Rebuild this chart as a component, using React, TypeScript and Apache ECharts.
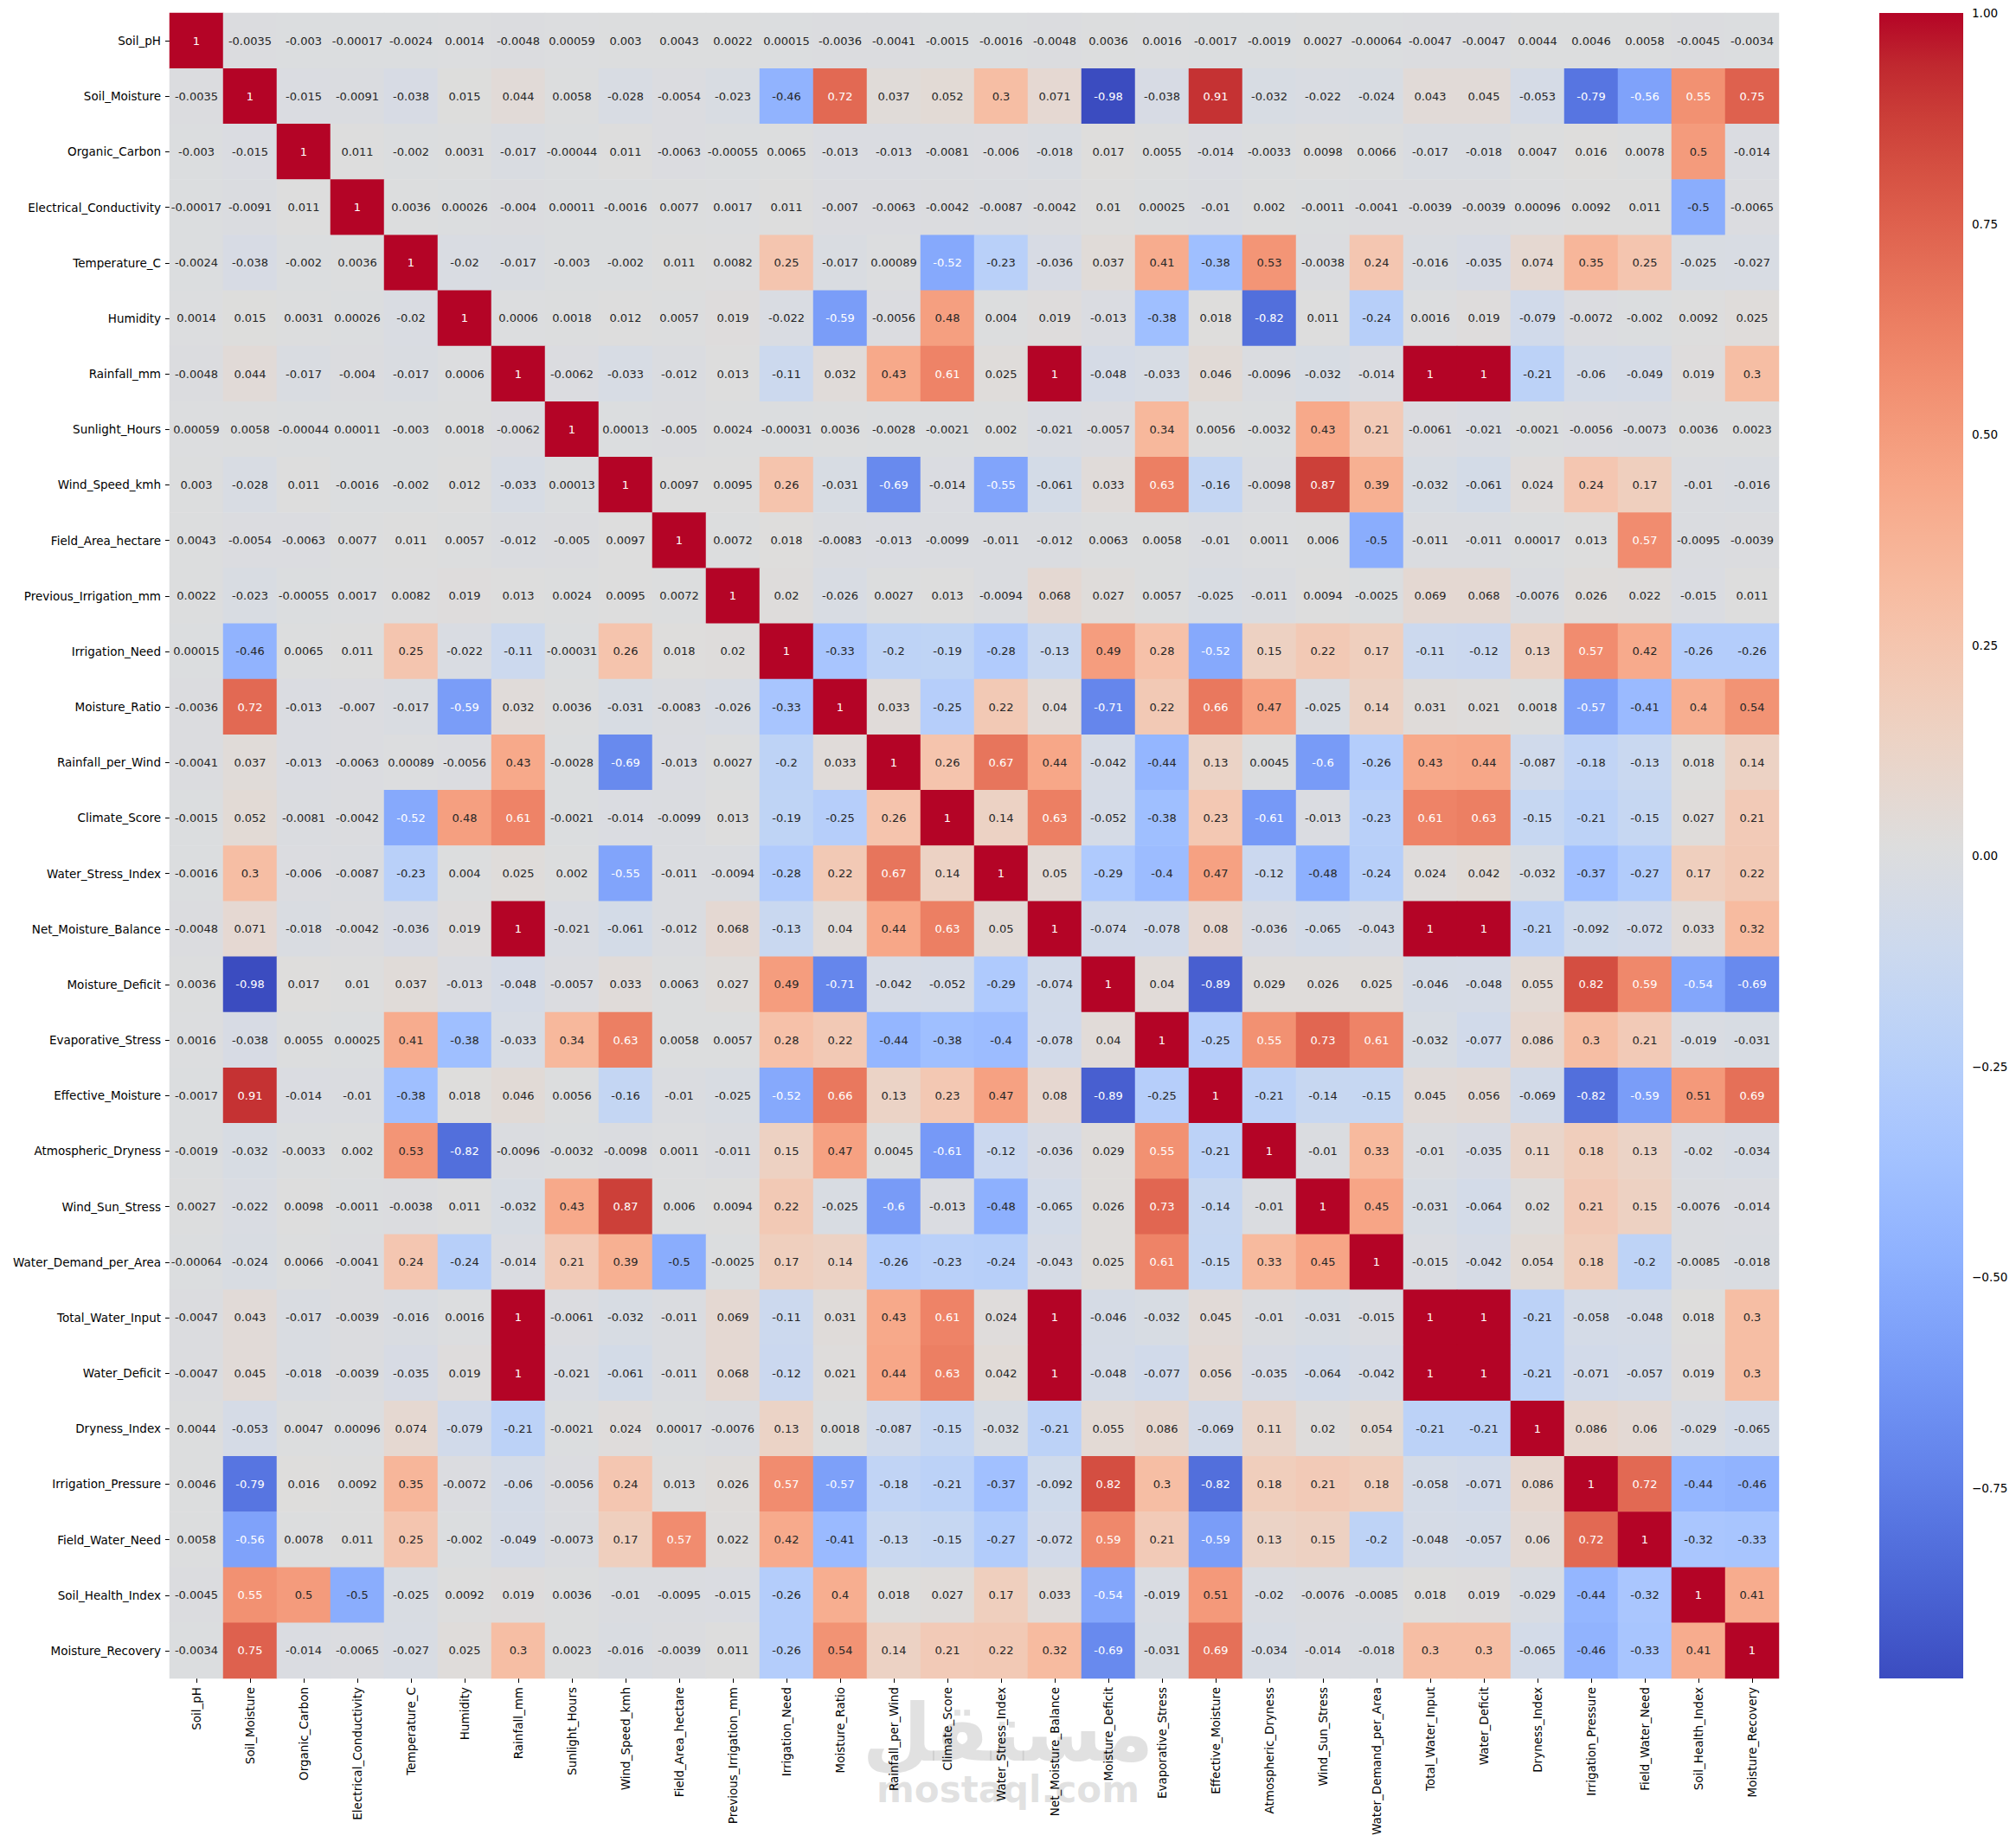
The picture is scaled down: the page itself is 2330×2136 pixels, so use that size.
import React, { useEffect, useRef } from "react";
import * as echarts from "echarts";

// Feature names (rows top-to-bottom, columns left-to-right)
const variables = [
  "Soil_pH", "Soil_Moisture", "Organic_Carbon", "Electrical_Conductivity", "Temperature_C",
  "Humidity", "Rainfall_mm", "Sunlight_Hours", "Wind_Speed_kmh", "Field_Area_hectare",
  "Previous_Irrigation_mm", "Irrigation_Need", "Moisture_Ratio", "Rainfall_per_Wind", "Climate_Score",
  "Water_Stress_Index", "Net_Moisture_Balance", "Moisture_Deficit", "Evaporative_Stress", "Effective_Moisture",
  "Atmospheric_Dryness", "Wind_Sun_Stress", "Water_Demand_per_Area", "Total_Water_Input", "Water_Deficit",
  "Dryness_Index", "Irrigation_Pressure", "Field_Water_Need", "Soil_Health_Index", "Moisture_Recovery",
];

// Pearson correlations, one row per feature
const soilPh = [1, -0.0035, -0.003, -0.00017, -0.0024, 0.0014, -0.0048, 0.00059, 0.003, 0.0043, 0.0022, 0.00015, -0.0036, -0.0041, -0.0015, -0.0016, -0.0048, 0.0036, 0.0016, -0.0017, -0.0019, 0.0027, -0.00064, -0.0047, -0.0047, 0.0044, 0.0046, 0.0058, -0.0045, -0.0034];
const soilMoisture = [-0.0035, 1, -0.015, -0.0091, -0.038, 0.015, 0.044, 0.0058, -0.028, -0.0054, -0.023, -0.46, 0.72, 0.037, 0.052, 0.3, 0.071, -0.98, -0.038, 0.91, -0.032, -0.022, -0.024, 0.043, 0.045, -0.053, -0.79, -0.56, 0.55, 0.75];
const organicCarbon = [-0.003, -0.015, 1, 0.011, -0.002, 0.0031, -0.017, -0.00044, 0.011, -0.0063, -0.00055, 0.0065, -0.013, -0.013, -0.0081, -0.006, -0.018, 0.017, 0.0055, -0.014, -0.0033, 0.0098, 0.0066, -0.017, -0.018, 0.0047, 0.016, 0.0078, 0.5, -0.014];
const electricalConductivity = [-0.00017, -0.0091, 0.011, 1, 0.0036, 0.00026, -0.004, 0.00011, -0.0016, 0.0077, 0.0017, 0.011, -0.007, -0.0063, -0.0042, -0.0087, -0.0042, 0.01, 0.00025, -0.01, 0.002, -0.0011, -0.0041, -0.0039, -0.0039, 0.00096, 0.0092, 0.011, -0.5, -0.0065];
const temperatureC = [-0.0024, -0.038, -0.002, 0.0036, 1, -0.02, -0.017, -0.003, -0.002, 0.011, 0.0082, 0.25, -0.017, 0.00089, -0.52, -0.23, -0.036, 0.037, 0.41, -0.38, 0.53, -0.0038, 0.24, -0.016, -0.035, 0.074, 0.35, 0.25, -0.025, -0.027];
const humidity = [0.0014, 0.015, 0.0031, 0.00026, -0.02, 1, 0.0006, 0.0018, 0.012, 0.0057, 0.019, -0.022, -0.59, -0.0056, 0.48, 0.004, 0.019, -0.013, -0.38, 0.018, -0.82, 0.011, -0.24, 0.0016, 0.019, -0.079, -0.0072, -0.002, 0.0092, 0.025];
const rainfallMm = [-0.0048, 0.044, -0.017, -0.004, -0.017, 0.0006, 1, -0.0062, -0.033, -0.012, 0.013, -0.11, 0.032, 0.43, 0.61, 0.025, 1, -0.048, -0.033, 0.046, -0.0096, -0.032, -0.014, 1, 1, -0.21, -0.06, -0.049, 0.019, 0.3];
const sunlightHours = [0.00059, 0.0058, -0.00044, 0.00011, -0.003, 0.0018, -0.0062, 1, 0.00013, -0.005, 0.0024, -0.00031, 0.0036, -0.0028, -0.0021, 0.002, -0.021, -0.0057, 0.34, 0.0056, -0.0032, 0.43, 0.21, -0.0061, -0.021, -0.0021, -0.0056, -0.0073, 0.0036, 0.0023];
const windSpeedKmh = [0.003, -0.028, 0.011, -0.0016, -0.002, 0.012, -0.033, 0.00013, 1, 0.0097, 0.0095, 0.26, -0.031, -0.69, -0.014, -0.55, -0.061, 0.033, 0.63, -0.16, -0.0098, 0.87, 0.39, -0.032, -0.061, 0.024, 0.24, 0.17, -0.01, -0.016];
const fieldAreaHectare = [0.0043, -0.0054, -0.0063, 0.0077, 0.011, 0.0057, -0.012, -0.005, 0.0097, 1, 0.0072, 0.018, -0.0083, -0.013, -0.0099, -0.011, -0.012, 0.0063, 0.0058, -0.01, 0.0011, 0.006, -0.5, -0.011, -0.011, 0.00017, 0.013, 0.57, -0.0095, -0.0039];
const previousIrrigationMm = [0.0022, -0.023, -0.00055, 0.0017, 0.0082, 0.019, 0.013, 0.0024, 0.0095, 0.0072, 1, 0.02, -0.026, 0.0027, 0.013, -0.0094, 0.068, 0.027, 0.0057, -0.025, -0.011, 0.0094, -0.0025, 0.069, 0.068, -0.0076, 0.026, 0.022, -0.015, 0.011];
const irrigationNeed = [0.00015, -0.46, 0.0065, 0.011, 0.25, -0.022, -0.11, -0.00031, 0.26, 0.018, 0.02, 1, -0.33, -0.2, -0.19, -0.28, -0.13, 0.49, 0.28, -0.52, 0.15, 0.22, 0.17, -0.11, -0.12, 0.13, 0.57, 0.42, -0.26, -0.26];
const moistureRatio = [-0.0036, 0.72, -0.013, -0.007, -0.017, -0.59, 0.032, 0.0036, -0.031, -0.0083, -0.026, -0.33, 1, 0.033, -0.25, 0.22, 0.04, -0.71, 0.22, 0.66, 0.47, -0.025, 0.14, 0.031, 0.021, 0.0018, -0.57, -0.41, 0.4, 0.54];
const rainfallPerWind = [-0.0041, 0.037, -0.013, -0.0063, 0.00089, -0.0056, 0.43, -0.0028, -0.69, -0.013, 0.0027, -0.2, 0.033, 1, 0.26, 0.67, 0.44, -0.042, -0.44, 0.13, 0.0045, -0.6, -0.26, 0.43, 0.44, -0.087, -0.18, -0.13, 0.018, 0.14];
const climateScore = [-0.0015, 0.052, -0.0081, -0.0042, -0.52, 0.48, 0.61, -0.0021, -0.014, -0.0099, 0.013, -0.19, -0.25, 0.26, 1, 0.14, 0.63, -0.052, -0.38, 0.23, -0.61, -0.013, -0.23, 0.61, 0.63, -0.15, -0.21, -0.15, 0.027, 0.21];
const waterStressIndex = [-0.0016, 0.3, -0.006, -0.0087, -0.23, 0.004, 0.025, 0.002, -0.55, -0.011, -0.0094, -0.28, 0.22, 0.67, 0.14, 1, 0.05, -0.29, -0.4, 0.47, -0.12, -0.48, -0.24, 0.024, 0.042, -0.032, -0.37, -0.27, 0.17, 0.22];
const netMoistureBalance = [-0.0048, 0.071, -0.018, -0.0042, -0.036, 0.019, 1, -0.021, -0.061, -0.012, 0.068, -0.13, 0.04, 0.44, 0.63, 0.05, 1, -0.074, -0.078, 0.08, -0.036, -0.065, -0.043, 1, 1, -0.21, -0.092, -0.072, 0.033, 0.32];
const moistureDeficit = [0.0036, -0.98, 0.017, 0.01, 0.037, -0.013, -0.048, -0.0057, 0.033, 0.0063, 0.027, 0.49, -0.71, -0.042, -0.052, -0.29, -0.074, 1, 0.04, -0.89, 0.029, 0.026, 0.025, -0.046, -0.048, 0.055, 0.82, 0.59, -0.54, -0.69];
const evaporativeStress = [0.0016, -0.038, 0.0055, 0.00025, 0.41, -0.38, -0.033, 0.34, 0.63, 0.0058, 0.0057, 0.28, 0.22, -0.44, -0.38, -0.4, -0.078, 0.04, 1, -0.25, 0.55, 0.73, 0.61, -0.032, -0.077, 0.086, 0.3, 0.21, -0.019, -0.031];
const effectiveMoisture = [-0.0017, 0.91, -0.014, -0.01, -0.38, 0.018, 0.046, 0.0056, -0.16, -0.01, -0.025, -0.52, 0.66, 0.13, 0.23, 0.47, 0.08, -0.89, -0.25, 1, -0.21, -0.14, -0.15, 0.045, 0.056, -0.069, -0.82, -0.59, 0.51, 0.69];
const atmosphericDryness = [-0.0019, -0.032, -0.0033, 0.002, 0.53, -0.82, -0.0096, -0.0032, -0.0098, 0.0011, -0.011, 0.15, 0.47, 0.0045, -0.61, -0.12, -0.036, 0.029, 0.55, -0.21, 1, -0.01, 0.33, -0.01, -0.035, 0.11, 0.18, 0.13, -0.02, -0.034];
const windSunStress = [0.0027, -0.022, 0.0098, -0.0011, -0.0038, 0.011, -0.032, 0.43, 0.87, 0.006, 0.0094, 0.22, -0.025, -0.6, -0.013, -0.48, -0.065, 0.026, 0.73, -0.14, -0.01, 1, 0.45, -0.031, -0.064, 0.02, 0.21, 0.15, -0.0076, -0.014];
const waterDemandPerArea = [-0.00064, -0.024, 0.0066, -0.0041, 0.24, -0.24, -0.014, 0.21, 0.39, -0.5, -0.0025, 0.17, 0.14, -0.26, -0.23, -0.24, -0.043, 0.025, 0.61, -0.15, 0.33, 0.45, 1, -0.015, -0.042, 0.054, 0.18, -0.2, -0.0085, -0.018];
const totalWaterInput = [-0.0047, 0.043, -0.017, -0.0039, -0.016, 0.0016, 1, -0.0061, -0.032, -0.011, 0.069, -0.11, 0.031, 0.43, 0.61, 0.024, 1, -0.046, -0.032, 0.045, -0.01, -0.031, -0.015, 1, 1, -0.21, -0.058, -0.048, 0.018, 0.3];
const waterDeficit = [-0.0047, 0.045, -0.018, -0.0039, -0.035, 0.019, 1, -0.021, -0.061, -0.011, 0.068, -0.12, 0.021, 0.44, 0.63, 0.042, 1, -0.048, -0.077, 0.056, -0.035, -0.064, -0.042, 1, 1, -0.21, -0.071, -0.057, 0.019, 0.3];
const drynessIndex = [0.0044, -0.053, 0.0047, 0.00096, 0.074, -0.079, -0.21, -0.0021, 0.024, 0.00017, -0.0076, 0.13, 0.0018, -0.087, -0.15, -0.032, -0.21, 0.055, 0.086, -0.069, 0.11, 0.02, 0.054, -0.21, -0.21, 1, 0.086, 0.06, -0.029, -0.065];
const irrigationPressure = [0.0046, -0.79, 0.016, 0.0092, 0.35, -0.0072, -0.06, -0.0056, 0.24, 0.013, 0.026, 0.57, -0.57, -0.18, -0.21, -0.37, -0.092, 0.82, 0.3, -0.82, 0.18, 0.21, 0.18, -0.058, -0.071, 0.086, 1, 0.72, -0.44, -0.46];
const fieldWaterNeed = [0.0058, -0.56, 0.0078, 0.011, 0.25, -0.002, -0.049, -0.0073, 0.17, 0.57, 0.022, 0.42, -0.41, -0.13, -0.15, -0.27, -0.072, 0.59, 0.21, -0.59, 0.13, 0.15, -0.2, -0.048, -0.057, 0.06, 0.72, 1, -0.32, -0.33];
const soilHealthIndex = [-0.0045, 0.55, 0.5, -0.5, -0.025, 0.0092, 0.019, 0.0036, -0.01, -0.0095, -0.015, -0.26, 0.4, 0.018, 0.027, 0.17, 0.033, -0.54, -0.019, 0.51, -0.02, -0.0076, -0.0085, 0.018, 0.019, -0.029, -0.44, -0.32, 1, 0.41];
const moistureRecovery = [-0.0034, 0.75, -0.014, -0.0065, -0.027, 0.025, 0.3, 0.0023, -0.016, -0.0039, 0.011, -0.26, 0.54, 0.14, 0.21, 0.22, 0.32, -0.69, -0.031, 0.69, -0.034, -0.014, -0.018, 0.3, 0.3, -0.065, -0.46, -0.33, 0.41, 1];

const corrRows = [
  soilPh, soilMoisture, organicCarbon, electricalConductivity, temperatureC,
  humidity, rainfallMm, sunlightHours, windSpeedKmh, fieldAreaHectare,
  previousIrrigationMm, irrigationNeed, moistureRatio, rainfallPerWind, climateScore,
  waterStressIndex, netMoistureBalance, moistureDeficit, evaporativeStress, effectiveMoisture,
  atmosphericDryness, windSunStress, waterDemandPerArea, totalWaterInput, waterDeficit,
  drynessIndex, irrigationPressure, fieldWaterNeed, soilHealthIndex, moistureRecovery,
];

// Colour scale limits and colorbar ticks
const colorMin = -0.976;
const colorMax = 1;
const colorbarTicks = [-0.75, -0.5, -0.25, 0, 0.25, 0.5, 0.75, 1];

// coolwarm diverging palette, 33 evenly spaced stops
const coolwarm: number[][] = [
  [59, 76, 192], [68, 90, 204], [77, 104, 215], [87, 117, 225], [98, 130, 234],
  [108, 142, 241], [119, 154, 247], [130, 165, 251], [141, 176, 254], [152, 185, 255],
  [163, 194, 255], [174, 201, 253], [184, 208, 249], [194, 213, 244], [204, 217, 238],
  [213, 219, 230], [221, 221, 221], [229, 216, 209], [236, 211, 197], [241, 204, 185],
  [245, 196, 173], [247, 187, 160], [247, 177, 148], [247, 166, 135], [244, 154, 123],
  [241, 141, 111], [236, 127, 99], [229, 112, 88], [222, 96, 77], [213, 80, 66],
  [203, 62, 56], [192, 40, 47], [180, 4, 38],
];
const paletteCss = coolwarm.map((c) => `rgb(${c[0]},${c[1]},${c[2]})`);

function sampleCoolwarm(v: number): number[] {
  let t = (v - colorMin) / (colorMax - colorMin);
  t = Math.max(0, Math.min(1, t));
  const pos = t * (coolwarm.length - 1);
  const i = Math.min(Math.floor(pos), coolwarm.length - 2);
  const f = pos - i;
  const a = coolwarm[i];
  const b = coolwarm[i + 1];
  return [0, 1, 2].map((k) => a[k] + (b[k] - a[k]) * f);
}

// Dark text on light cells, white text on dark cells (relative luminance rule)
function annotationColor(v: number): string {
  const rgb = sampleCoolwarm(v).map((c) => {
    const s = c / 255;
    return s <= 0.03928 ? s / 12.92 : Math.pow((s + 0.055) / 1.055, 2.4);
  });
  const lum = 0.2126 * rgb[0] + 0.7152 * rgb[1] + 0.0722 * rgb[2];
  return lum > 0.408 ? "#262626" : "#ffffff";
}

const FONT = "DejaVu Sans";

export default function App() {
  const ref = useRef<HTMLDivElement>(null);

  useEffect(() => {
    if (!ref.current) return;
    const chart = echarts.init(ref.current, undefined, { renderer: "svg" });

    const cells: any[] = [];
    corrRows.forEach((row, i) => {
      row.forEach((v, j) => {
        cells.push({ value: [j, i, v], label: { color: annotationColor(v) } });
      });
    });

    const gradientStops = paletteCss.map((color, i) => ({
      offset: i / (paletteCss.length - 1),
      color,
    }));

    chart.setOption({
      animation: false,
      backgroundColor: "#ffffff",
      textStyle: { fontFamily: FONT },
      grid: [
        { left: 196, top: 15, width: 1860, height: 1925 },
        { left: 2172, top: 15, width: 97, height: 1925 },
      ],
      xAxis: [
        {
          type: "category",
          gridIndex: 0,
          data: variables,
          position: "bottom",
          axisLine: { show: false },
          axisTick: { show: true, alignWithLabel: true, length: 5, lineStyle: { color: "#000", width: 1 } },
          axisLabel: { interval: 0, rotate: 90, margin: 10, fontSize: 13.5, color: "#000", fontFamily: FONT },
          splitLine: { show: false },
          splitArea: { show: false },
        },
        { type: "value", gridIndex: 1, min: 0, max: 1, show: false },
      ],
      yAxis: [
        {
          type: "category",
          gridIndex: 0,
          data: variables,
          inverse: true,
          axisLine: { show: false },
          axisTick: { show: true, alignWithLabel: true, length: 5, lineStyle: { color: "#000", width: 1 } },
          axisLabel: { interval: 0, margin: 10, fontSize: 13.5, color: "#000", fontFamily: FONT },
          splitLine: { show: false },
          splitArea: { show: false },
        },
        {
          type: "value",
          gridIndex: 1,
          min: colorMin,
          max: colorMax,
          position: "right",
          axisLine: { show: false },
          splitLine: { show: false },
          axisTick: {
            show: true,
            length: 5,
            customValues: colorbarTicks,
            lineStyle: { color: "#000", width: 1 },
          },
          axisLabel: {
            customValues: colorbarTicks,
            margin: 10,
            fontSize: 13.5,
            color: "#000",
            fontFamily: FONT,
            formatter: (v: number) => (v < 0 ? "\u2212" : "") + Math.abs(v).toFixed(2),
          },
        },
      ],
      visualMap: {
        show: false,
        seriesIndex: 0,
        dimension: 2,
        min: colorMin,
        max: colorMax,
        inRange: { color: paletteCss },
      },
      graphic: [
        {
          type: "text",
          z: -10,
          silent: true,
          x: 1165,
          y: 2003,
          style: {
            text: "مستقل",
            fill: "rgba(170,170,170,0.35)",
            font: `bold 92px "${FONT}"`,
            align: "center",
            verticalAlign: "middle",
          },
        },
        {
          type: "text",
          z: -10,
          silent: true,
          x: 1165,
          y: 2068,
          style: {
            text: "mostaql.com",
            fill: "rgba(170,170,170,0.35)",
            font: `bold 42px "${FONT}"`,
            align: "center",
            verticalAlign: "middle",
          },
        },
      ],
      series: [
        {
          type: "heatmap",
          xAxisIndex: 0,
          yAxisIndex: 0,
          data: cells,
          silent: true,
          itemStyle: { borderWidth: 0 },
          label: {
            show: true,
            fontSize: 13,
            fontFamily: FONT,
            formatter: (p: any) => String(p.value[2]),
          },
          emphasis: { disabled: true },
        },
        {
          type: "custom",
          xAxisIndex: 1,
          yAxisIndex: 1,
          silent: true,
          data: [[0, 0]],
          renderItem: (_params: any, api: any) => {
            const topLeft = api.coord([0, colorMax]);
            const bottomRight = api.coord([1, colorMin]);
            return {
              type: "rect",
              shape: {
                x: topLeft[0],
                y: topLeft[1],
                width: bottomRight[0] - topLeft[0],
                height: bottomRight[1] - topLeft[1],
              },
              style: {
                fill: new echarts.graphic.LinearGradient(0, 1, 0, 0, gradientStops),
              },
            };
          },
        },
      ],
    });

    return () => chart.dispose();
  }, []);

  return (
    <div
      ref={ref}
      style={{ position: "absolute", left: 0, top: 0, width: 2330, height: 2136, background: "#fff" }}
    />
  );
}
